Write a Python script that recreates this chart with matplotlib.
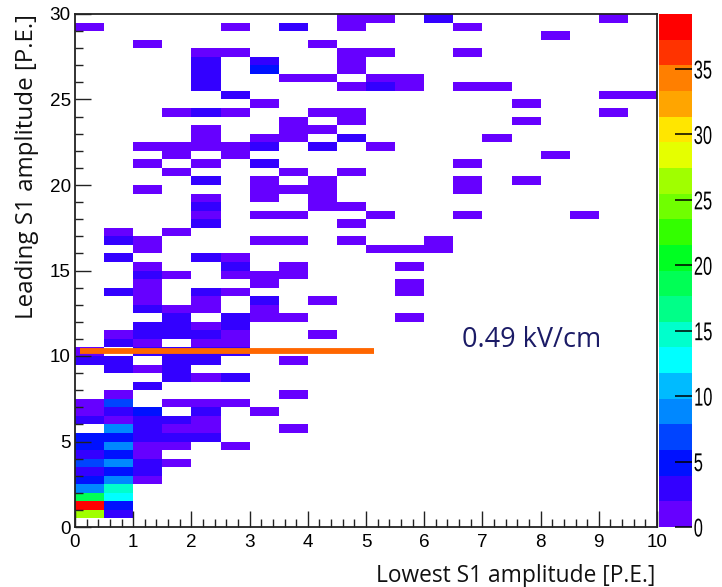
import numpy as np
import matplotlib
matplotlib.use("Agg")
import matplotlib.pyplot as plt
from matplotlib.colors import ListedColormap, BoundaryNorm
from matplotlib.patheffects import AbstractPathEffect
from matplotlib.transforms import Affine2D
from matplotlib.ticker import MultipleLocator

# ---------------------------------------------------------------------------
# Event counts per (lowest S1, leading S1) bin, given at the bin centres [P.E.]
# ---------------------------------------------------------------------------
lowest_s1 = [
    0.25, 0.75,
    0.25, 0.75,
    0.25, 0.75,
    0.25, 0.75,
    0.25, 0.75, 1.25,
    0.25, 0.75, 1.25,
    0.25, 0.75, 1.25, 1.75,
    0.25, 0.75, 1.25,
    0.25, 0.75, 1.25, 1.75, 2.75,
    0.25, 0.75, 1.25, 1.75, 2.25,
    0.75, 1.25, 1.75, 2.25, 3.75,
    0.25, 0.75, 1.25, 1.75, 2.25,
    0.25, 0.75, 1.25, 2.25, 3.25,
    0.25, 0.75, 1.75, 2.25, 2.75,
    0.75, 3.75,
    1.25,
    1.75, 2.25, 2.75,
    0.75, 1.25, 1.75,
    0.25, 0.75, 1.75, 2.25, 3.75,
    0.25, 1.25, 1.75, 2.25, 2.75,
    0.75, 1.25, 2.25, 2.75,
    0.75, 1.25, 1.75, 2.25, 2.75, 4.25,
    1.25, 1.75, 2.25, 2.75,
    1.75, 2.75, 3.25, 3.75, 5.75,
    1.25, 1.75, 2.25, 3.25,
    1.25, 2.25, 3.25, 4.25,
    0.75, 1.25, 2.25, 2.75, 5.75,
    1.25, 3.25, 5.75,
    1.25, 1.75, 2.75, 3.25, 3.75,
    1.25, 2.75, 3.75, 5.75,
    0.75, 2.25, 2.75,
    1.25, 5.25, 5.75, 6.25,
    0.75, 1.25, 3.25, 3.75, 4.75, 6.25,
    0.75, 1.75,
    2.25, 4.75,
    2.25, 3.25, 3.75, 5.25, 6.75, 8.75,
    2.25, 4.25, 4.75,
    2.25, 3.25, 4.25,
    1.25, 3.25, 3.75, 4.25, 6.75,
    2.25, 3.25, 4.25, 6.75, 7.75,
    1.75, 3.75, 4.75,
    1.25, 2.25, 3.25, 6.75,
    1.75, 2.75, 8.25,
    1.25, 1.75, 2.25, 2.75, 3.25, 4.25, 5.25,
    2.25, 3.25, 3.75, 4.75, 7.25,
    2.25, 3.75, 4.25,
    3.75, 4.75, 7.75,
    1.75, 2.25, 2.75, 4.25, 4.75, 9.25,
    3.25, 7.75,
    2.75, 9.25, 9.75,
    2.25, 4.75, 5.25, 5.75, 6.75, 7.25,
    2.25, 3.75, 4.25, 5.25, 5.75,
    2.25, 3.25, 4.75,
    2.25, 3.25, 4.75,
    2.25, 2.75, 4.75, 5.25, 6.75,
    1.25, 4.25,
    8.25,
    0.25, 2.75, 3.75, 4.75, 6.75,
    4.75, 5.25, 6.25, 9.25,
]
leading_s1 = [
    0.75, 0.75,
    1.25, 1.25,
    1.75, 1.75,
    2.25, 2.25,
    2.75, 2.75, 2.75,
    3.25, 3.25, 3.25,
    3.75, 3.75, 3.75, 3.75,
    4.25, 4.25, 4.25,
    4.75, 4.75, 4.75, 4.75, 4.75,
    5.25, 5.25, 5.25, 5.25, 5.25,
    5.75, 5.75, 5.75, 5.75, 5.75,
    6.25, 6.25, 6.25, 6.25, 6.25,
    6.75, 6.75, 6.75, 6.75, 6.75,
    7.25, 7.25, 7.25, 7.25, 7.25,
    7.75, 7.75,
    8.25,
    8.75, 8.75, 8.75,
    9.25, 9.25, 9.25,
    9.75, 9.75, 9.75, 9.75, 9.75,
    10.25, 10.25, 10.25, 10.25, 10.25,
    10.75, 10.75, 10.75, 10.75,
    11.25, 11.25, 11.25, 11.25, 11.25, 11.25,
    11.75, 11.75, 11.75, 11.75,
    12.25, 12.25, 12.25, 12.25, 12.25,
    12.75, 12.75, 12.75, 12.75,
    13.25, 13.25, 13.25, 13.25,
    13.75, 13.75, 13.75, 13.75, 13.75,
    14.25, 14.25, 14.25,
    14.75, 14.75, 14.75, 14.75, 14.75,
    15.25, 15.25, 15.25, 15.25,
    15.75, 15.75, 15.75,
    16.25, 16.25, 16.25, 16.25,
    16.75, 16.75, 16.75, 16.75, 16.75, 16.75,
    17.25, 17.25,
    17.75, 17.75,
    18.25, 18.25, 18.25, 18.25, 18.25, 18.25,
    18.75, 18.75, 18.75,
    19.25, 19.25, 19.25,
    19.75, 19.75, 19.75, 19.75, 19.75,
    20.25, 20.25, 20.25, 20.25, 20.25,
    20.75, 20.75, 20.75,
    21.25, 21.25, 21.25, 21.25,
    21.75, 21.75, 21.75,
    22.25, 22.25, 22.25, 22.25, 22.25, 22.25, 22.25,
    22.75, 22.75, 22.75, 22.75, 22.75,
    23.25, 23.25, 23.25,
    23.75, 23.75, 23.75,
    24.25, 24.25, 24.25, 24.25, 24.25, 24.25,
    24.75, 24.75,
    25.25, 25.25, 25.25,
    25.75, 25.75, 25.75, 25.75, 25.75, 25.75,
    26.25, 26.25, 26.25, 26.25, 26.25,
    26.75, 26.75, 26.75,
    27.25, 27.25, 27.25,
    27.75, 27.75, 27.75, 27.75, 27.75,
    28.25, 28.25,
    28.75,
    29.25, 29.25, 29.25, 29.25, 29.25,
    29.75, 29.75, 29.75, 29.75,
]
entries = [
    26, 3,
    39, 5,
    19, 13,
    9, 15,
    5, 9, 1,
    3, 5, 3,
    7, 9, 3, 1,
    3, 5, 1,
    5, 9, 1, 1, 1,
    5, 5, 3, 3, 3,
    9, 3, 1, 1, 1,
    3, 1, 3, 3, 1,
    1, 3, 5, 3, 1,
    1, 7, 1, 1, 1,
    1, 1,
    3,
    3, 1, 3,
    3, 1, 3,
    3, 3, 3, 3, 1,
    1, 3, 3, 2, 2,
    3, 1, 1, 1,
    1, 3, 3, 3, 1, 1,
    3, 3, 1, 3,
    3, 3, 1, 1, 1,
    3, 1, 1, 1,
    1, 1, 3, 1,
    3, 1, 3, 1, 1,
    1, 1, 1,
    3, 1, 1, 1, 1,
    1, 3, 1, 1,
    3, 3, 1,
    1, 1, 1, 1,
    3, 1, 1, 1, 1, 1,
    1, 1,
    3, 1,
    1, 1, 1, 1, 1, 1,
    3, 1, 1,
    1, 1, 1,
    1, 1, 1, 1, 1,
    3, 1, 1, 1, 1,
    1, 1, 1,
    1, 1, 3, 1,
    1, 1, 1,
    1, 1, 1, 1, 3, 3, 1,
    1, 1, 1, 3, 1,
    1, 1, 1,
    1, 1, 1,
    1, 3, 1, 1, 1, 1,
    1, 1,
    3, 1, 1,
    3, 1, 3, 1, 1, 1,
    3, 1, 1, 1, 1,
    3, 5, 1,
    3, 3, 1,
    1, 1, 1, 1, 1,
    1, 1,
    1,
    1, 1, 3, 1, 1,
    1, 1, 3, 1,
]

# Selection cut drawn over the histogram
cut_x = [0.09, 5.14]
cut_y = [10.3, 10.3]

x_ticks = [0, 1, 2, 3, 4, 5, 6, 7, 8, 9, 10]
y_ticks = [0, 5, 10, 15, 20, 25, 30]
z_ticks = [0, 5, 10, 15, 20, 25, 30, 35]

# 20-step violet -> red palette
palette = ["#6600ff", "#3300ff", "#0011ff", "#0044ff", "#0088ff",
           "#00bbff", "#00ffff", "#00ffcc", "#00ff88", "#00ff55",
           "#00ff22", "#33ff00", "#70ff00", "#a0ff00", "#e5ff00",
           "#ffe600", "#ffa500", "#ff7f00", "#ff3300", "#ff0000"]
z_max = 39.2


class Squeeze(AbstractPathEffect):
    """Draw text glyphs horizontally condensed about an anchor."""

    def __init__(self, sx=0.6, anchor="left"):
        super().__init__()
        self._sx = sx
        self._anchor = anchor

    def draw_path(self, renderer, gc, tpath, affine, rgbFace=None):
        ext = tpath.get_extents()
        cx = {"left": ext.x0, "center": 0.5 * (ext.x0 + ext.x1),
              "right": ext.x1}[self._anchor]
        pre = Affine2D().translate(-cx, 0).scale(self._sx, 1).translate(cx, 0)
        renderer.draw_path(gc, tpath, pre + affine, rgbFace)


plt.rcParams["font.family"] = ["Liberation Sans Narrow", "Liberation Sans", "DejaVu Sans"]

W, H = 722, 587
fig = plt.figure(figsize=(W / 100, H / 100), dpi=100)
ax = fig.add_axes([75 / W, 1 - 527 / H, 582 / W, 513 / H])

x_edges = np.linspace(0, 10, 21)
y_edges = np.linspace(0, 30, 61)
counts, _, _ = np.histogram2d(lowest_s1, leading_s1, bins=[x_edges, y_edges],
                              weights=entries)
counts = np.ma.masked_equal(counts.T, 0)

cmap = ListedColormap(palette)
norm = BoundaryNorm(np.linspace(0, z_max, len(palette) + 1), cmap.N)
mesh = ax.pcolormesh(x_edges, y_edges, counts, cmap=cmap, norm=norm,
                     antialiased=False, linewidth=0)

ax.plot(cut_x, cut_y, color="#ff6600", lw=4.2, solid_capstyle="butt", zorder=3)

ax.set_xlim(0, 10)
ax.set_ylim(0, 30)
ax.set_xticks(x_ticks)
ax.set_yticks(y_ticks)
ax.xaxis.set_minor_locator(MultipleLocator(0.2))
ax.yaxis.set_minor_locator(MultipleLocator(1))
ax.tick_params(which="both", direction="in", color="#222222", width=1.0,
               top=False, right=False)
ax.tick_params(which="major", length=11.5)
ax.tick_params(which="minor", length=5.8)
ax.tick_params(axis="x", labelsize=13.6, pad=5)
ax.tick_params(axis="y", labelsize=13.6, pad=3)
for s in ax.spines.values():
    s.set_linewidth(1.3)
    s.set_color("#222222")

# Colour scale
cax = fig.add_axes([659 / W, 1 - 527 / H, 33 / W, 513 / H])
cb = fig.colorbar(mesh, cax=cax, ticks=z_ticks)
cb.outline.set_visible(False)
cax.tick_params(which="both", direction="in", length=12.2, width=1.1,
                color="black", right=True, left=False, labelsize=18.5, pad=1)
cax.minorticks_off()

title_font = ["Open Sans", "DejaVu Sans"]
fig.text(655 / W, 1 - 582 / H, "Lowest S1 amplitude [P.E.]", ha="right",
         va="baseline", fontsize=16.4, family=title_font, color="#111111")
fig.text(27 / W, 1 - 14 / H, "Leading S1 amplitude [P.E.]", ha="center",
         va="top", rotation=90, fontsize=17.4, family=title_font, color="#111111")
fig.text(462 / W, 1 - 347 / H, "0.49 kV/cm", ha="left", va="baseline",
         fontsize=19.5, family=title_font, color="#1b1b66")

fig.canvas.draw()
for lab in cax.get_yticklabels():
    lab.set_path_effects([Squeeze(0.64, "left")])

fig.savefig("out.png", dpi=100)
